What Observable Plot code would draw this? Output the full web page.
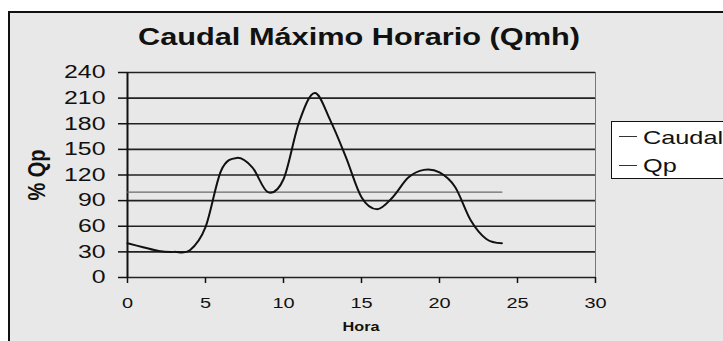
<!DOCTYPE html>
<html>
<head>
<meta charset="utf-8">
<script src="https://cdn.jsdelivr.net/npm/d3@7"></script>
<script src="https://cdn.jsdelivr.net/npm/@observablehq/plot@0.6"></script>
<style>
  html, body { margin: 0; padding: 0; background: #ffffff; overflow: hidden; }
  #wrap { position: relative; width: 723px; height: 341px; overflow: hidden; font-family: "Liberation Sans", Arial, sans-serif; color: #111; }
  #frame { position: absolute; left: 8px; top: 11px; width: 800px; height: 400px; border-left: 2px solid #111; border-top: 2px solid #111; background: #e8e8e8; }
  #chart { position: absolute; left: 0; top: 0; }
  .t { position: absolute; white-space: nowrap; }
  #title { left: 359px; top: 25px; font-size: 24px; line-height: 24px; font-weight: bold; transform: translateX(-50%) scaleX(1.28); transform-origin: center; }
  #ylab { left: 37px; top: 175px; font-size: 20px; line-height: 20px; font-weight: bold; transform: translate(-50%, -50%) rotate(-90deg) scaleY(1.15); }
  #xlab { left: 361px; top: 321px; font-size: 12.5px; line-height: 12.5px; font-weight: bold; transform: translateX(-50%) scaleX(1.3); }
  #legend { position: absolute; left: 611px; top: 121px; width: 140px; height: 56px; border: 1px solid #111; background: #ffffff; }
  .lg { position: absolute; left: 7px; width: 18px; height: 0; border-top: 1.5px solid #333; }
  .lt { position: absolute; left: 31px; font-size: 19px; line-height: 19px; transform: scaleX(1.33); transform-origin: left center; }
</style>
</head>
<body>
<div id="wrap">
  <div id="frame"></div>
  <div id="chart"></div>
  <div class="t" id="title"></div>
  <div class="t" id="ylab"></div>
  <div class="t" id="xlab"></div>
  <div id="legend"></div>
</div>
<script>
const titleText = "Caudal Máximo Horario (Qmh)";
const yLabel = "% Qp";
const xLabel = "Hora";
const seriesNames = ["Caudal", "Qp"];
const hours = [0, 1, 2, 3, 4, 5, 6, 7, 8, 9, 10, 11, 12, 13, 14, 15, 16, 17, 18, 19, 20, 21, 22, 23, 24];
const caudal = [40, 35.5, 31, 30, 32, 59, 125, 140, 129, 100, 115, 182, 216, 184, 141, 94, 80, 94, 117, 126, 123, 106, 67, 45, 40];
const qpHours = [0, 24];
const qpValue = [100, 100];
const xTicks = [0, 5, 10, 15, 20, 25, 30];
const yTicks = [0, 30, 60, 90, 120, 150, 180, 210, 240];

const caudalData = hours.map((h, i) => ({hora: h, v: caudal[i]}));
const qpData = qpHours.map((h, i) => ({hora: h, v: qpValue[i]}));

document.getElementById("title").textContent = titleText;
document.getElementById("ylab").textContent = yLabel;
document.getElementById("xlab").textContent = xLabel;

const legend = document.getElementById("legend");
seriesNames.forEach((name, i) => {
  const line = document.createElement("div");
  line.className = "lg";
  line.style.top = (i === 0 ? 14 : 43) + "px";
  legend.appendChild(line);
  const txt = document.createElement("div");
  txt.className = "lt";
  txt.style.top = (i === 0 ? 6 : 34) + "px";
  txt.textContent = name;
  legend.appendChild(txt);
});

const chart = Plot.plot({
  width: 723,
  height: 341,
  marginLeft: 127,
  marginRight: 128,
  marginTop: 72,
  marginBottom: 64,
  style: {background: "transparent", fontFamily: "Liberation Sans, Arial, sans-serif", color: "#111"},
  x: {domain: [0, 30]},
  y: {domain: [0, 240]},
  marks: [
    Plot.ruleY(yTicks, {x1: 0, x2: 30, stroke: "#222", strokeWidth: 1.6}),
    Plot.ruleX([30], {y1: 0, y2: 240, stroke: "#777", strokeWidth: 1}),
    Plot.ruleX([0], {y1: 0, y2: 240, stroke: "#111", strokeWidth: 2}),
    Plot.axisY({ticks: yTicks, tickSize: 9, tickPadding: 13, fontSize: 18, label: null, stroke: "#111", strokeWidth: 1.5}),
    Plot.axisX({ticks: xTicks, tickSize: 6, tickPadding: 14, fontSize: 15, label: null, stroke: "#111", strokeWidth: 1.5}),
    Plot.line(qpData, {x: "hora", y: "v", stroke: "#6a6a6a", strokeWidth: 1.3}),
    Plot.line(caudalData, {x: "hora", y: "v", stroke: "#111", strokeWidth: 2, curve: "cardinal", tension: 0})
  ]
});
document.getElementById("chart").appendChild(chart);

function stretch(sel, k) {
  chart.querySelectorAll(sel).forEach(t => {
    const w = t.getComputedTextLength();
    t.setAttribute("textLength", (w * k).toFixed(2));
    t.setAttribute("lengthAdjust", "spacingAndGlyphs");
  });
}
stretch('g[aria-label="y-axis tick label"] text', 1.38);
stretch('g[aria-label="x-axis tick label"] text', 1.33);
</script>
</body>
</html>
